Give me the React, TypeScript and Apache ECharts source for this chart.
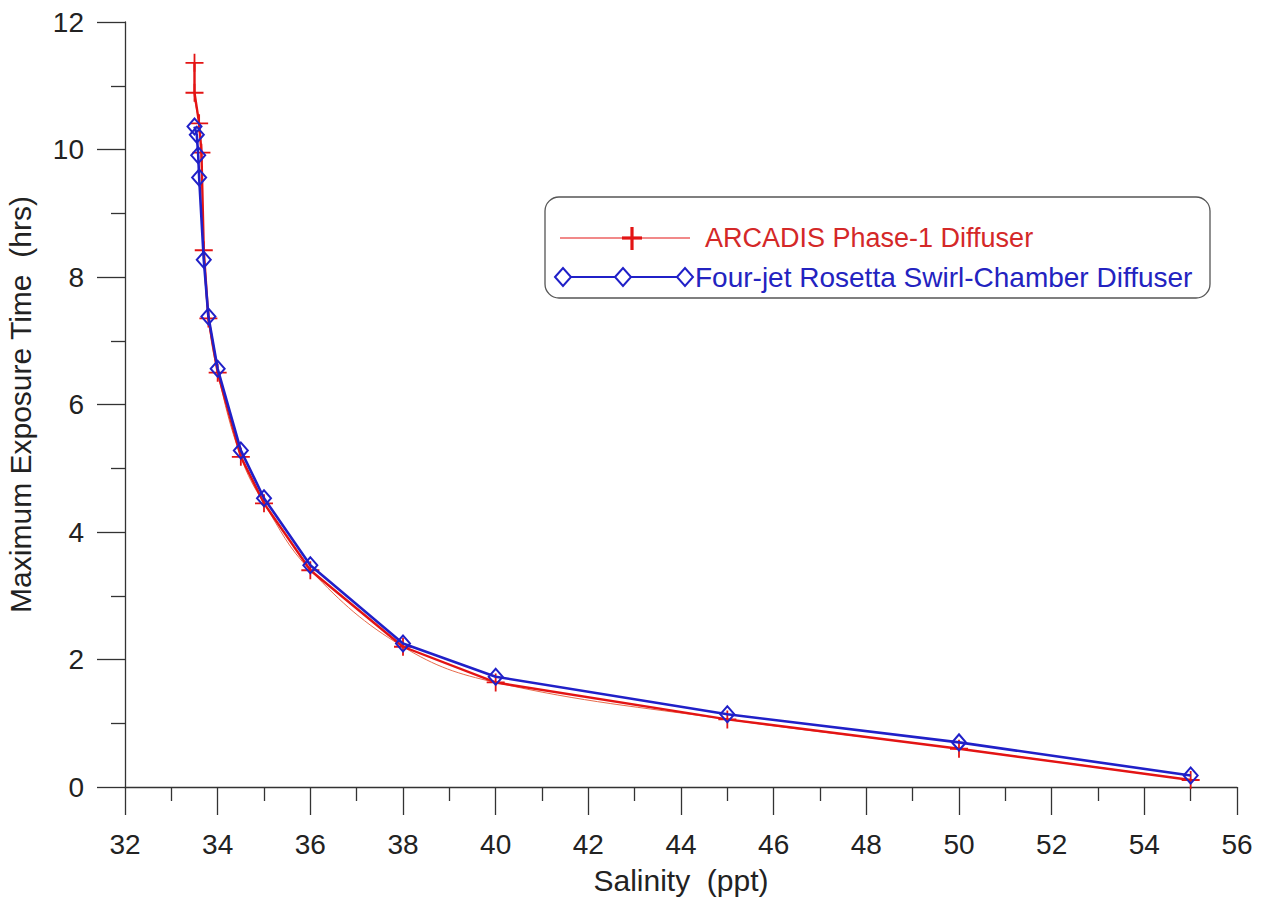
import React, { useEffect, useRef } from "react";
import * as echarts from "echarts";

const xTicks = [32, 34, 36, 38, 40, 42, 44, 46, 48, 50, 52, 54, 56];
const yTicks = [0, 2, 4, 6, 8, 10, 12];

const arcadisSalinity = [33.5, 33.5, 33.6, 33.65, 33.7, 33.8, 34, 34.5, 35, 36, 38, 40, 45, 50, 55];
const arcadisTime = [11.36, 10.89, 10.41, 9.95, 8.42, 7.35, 6.5, 5.18, 4.45, 3.4, 2.2, 1.64, 1.06, 0.6, 0.11];

const rosettaSalinity = [33.5, 33.55, 33.58, 33.6, 33.7, 33.8, 34, 34.5, 35, 36, 38, 40, 45, 50, 55];
const rosettaTime = [10.36, 10.23, 9.91, 9.56, 8.27, 7.38, 6.56, 5.28, 4.53, 3.48, 2.25, 1.73, 1.14, 0.7, 0.18];

const seriesNames = ["ARCADIS Phase-1 Diffuser", "Four-jet Rosetta Swirl-Chamber Diffuser"];

const RED = "#e31414";
const BLUE = "#2020c8";
const FONT = "Liberation Sans";

const plusPath = "path://M9,0 H11 V9 H20 V11 H11 V20 H9 V11 H0 V9 H9 Z";

export default function App() {
  const ref = useRef<HTMLDivElement>(null);
  useEffect(() => {
    if (!ref.current) return;
    const chart = echarts.init(ref.current, undefined, { renderer: "svg" });
    const red = arcadisSalinity.map((x, i) => [x, arcadisTime[i]]);
    const blue = rosettaSalinity.map((x, i) => [x, rosettaTime[i]]);

    const diamond = (cx: number, cy: number) => ({
      type: "polygon",
      z: 12,
      shape: { points: [[cx - 8, cy], [cx, cy - 9], [cx + 8, cy], [cx, cy + 9]] },
      style: { fill: "#fff", stroke: BLUE, lineWidth: 2 },
    });

    chart.setOption({
      animation: false,
      backgroundColor: "#fff",
      textStyle: { fontFamily: FONT },
      grid: { left: 125, right: 28, top: 22, bottom: 112, containLabel: false, outerBoundsMode: "none" },
      xAxis: {
        type: "value",
        min: xTicks[0],
        max: xTicks[xTicks.length - 1],
        interval: 2,
        name: "Salinity  (ppt)",
        nameLocation: "middle",
        nameGap: 78,
        nameTextStyle: { fontSize: 30, color: "#222", fontFamily: FONT },
        axisLine: { show: true, lineStyle: { color: "#333", width: 1.3 } },
        axisTick: { show: true, inside: false, length: 28, lineStyle: { color: "#333", width: 1.3 } },
        minorTick: { show: true, splitNumber: 2, length: 14, lineStyle: { color: "#333", width: 1.3 } },
        splitLine: { show: false },
        axisLabel: { fontSize: 28, color: "#222", margin: 43, fontFamily: FONT },
      },
      yAxis: {
        type: "value",
        min: yTicks[0],
        max: yTicks[yTicks.length - 1],
        interval: 2,
        name: "Maximum Exposure Time  (hrs)",
        nameLocation: "middle",
        nameGap: 90,
        nameTextStyle: { fontSize: 30, color: "#222", fontFamily: FONT },
        axisLine: { show: true, lineStyle: { color: "#333", width: 1.3 } },
        axisTick: { show: true, inside: false, length: 28, lineStyle: { color: "#333", width: 1.3 } },
        minorTick: { show: true, splitNumber: 2, length: 14, lineStyle: { color: "#333", width: 1.3 } },
        splitLine: { show: false },
        axisLabel: { fontSize: 28, color: "#222", margin: 41, fontFamily: FONT },
      },
      series: [
        {
          name: seriesNames[0] + " (fit)",
          type: "line",
          data: red,
          smooth: 0.4,
          showSymbol: false,
          symbol: "none",
          lineStyle: { color: "#e86a4a", width: 1 },
          z: 1,
        },
        {
          name: seriesNames[0],
          type: "line",
          data: red,
          symbol: plusPath,
          symbolSize: 18,
          itemStyle: { color: RED },
          lineStyle: { color: RED, width: 2.4 },
          z: 2,
        },
        {
          name: seriesNames[1],
          type: "line",
          data: blue,
          symbol: "diamond",
          symbolSize: [14, 16],
          itemStyle: { color: "rgba(255,255,255,0)", borderColor: BLUE, borderWidth: 2 },
          lineStyle: { color: BLUE, width: 2.6 },
          z: 3,
        },
      ],
      graphic: [
        {
          type: "rect",
          z: 10,
          shape: { x: 545, y: 197, width: 665, height: 101, r: 14 },
          style: { fill: "#fff", stroke: "#555", lineWidth: 1.3 },
        },
        { type: "line", z: 11, shape: { x1: 560, y1: 238, x2: 690, y2: 238 }, style: { stroke: RED, lineWidth: 1.2 } },
        { type: "line", z: 12, shape: { x1: 622, y1: 238, x2: 642, y2: 238 }, style: { stroke: RED, lineWidth: 3.2 } },
        { type: "line", z: 12, shape: { x1: 632, y1: 227, x2: 632, y2: 250 }, style: { stroke: RED, lineWidth: 3.2 } },
        {
          type: "text",
          z: 12,
          x: 705,
          y: 238,
          style: { text: seriesNames[0], fill: "#d42828", font: `27px "${FONT}"`, verticalAlign: "middle", align: "left" },
        },
        { type: "line", z: 11, shape: { x1: 556, y1: 277, x2: 688, y2: 277 }, style: { stroke: BLUE, lineWidth: 2 } },
        diamond(563, 277),
        diamond(623, 277),
        diamond(685, 277),
        {
          type: "text",
          z: 12,
          x: 695,
          y: 277,
          style: { text: seriesNames[1], fill: "#2323c0", font: `28px "${FONT}"`, verticalAlign: "middle", align: "left" },
        },
      ],
    });
    return () => chart.dispose();
  }, []);
  return (
    <div
      ref={ref}
      style={{ position: "fixed", left: 0, top: 0, width: 1265, height: 899, background: "#fff" }}
    />
  );
}
